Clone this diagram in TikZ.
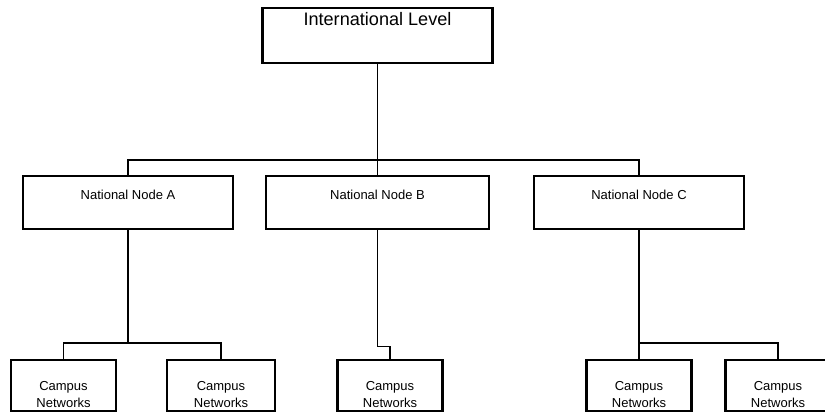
\documentclass[tikz,border=0pt]{standalone}
\usepackage{fontspec}
\setmainfont{Liberation Sans}
\usepackage{tikz}
\usetikzlibrary{positioning}

\begin{document}
\begin{tikzpicture}[
        x=0.02cm, y=-0.02cm,
        box/.style={rectangle, draw, line width=1.2pt, inner ysep=0pt,
                    align=center},
        topbox/.style={box, minimum width=4.6cm, minimum height=1.1cm,
                       text height=0.34cm, text depth=0.76cm,
                       font=\fontsize{10.3}{12}\selectfont},
        natbox/.style={box, minimum width=4.2cm, minimum height=1.06cm,
                       text height=0.46cm, text depth=0.6cm,
                       font=\fontsize{7.4}{9.6}\selectfont},
        campbox/.style={box, minimum width=2.1cm, minimum height=1.02cm,
                        text height=0.94cm, text depth=0.08cm,
                        font=\fontsize{7.4}{9.6}\selectfont},
        link/.style={line width=0.6pt},
    ]
        \clip (0,0) rectangle (825,413);

        % International level
        \node[topbox] (intl) at (377.5,35.5) {International Level};

        % National nodes
        \node[natbox] (natA) at (128,202.5) {National Node A};
        \node[natbox, minimum width=4.46cm] (natB) at (377.5,202.5) {National Node B};
        \node[natbox] (natC) at (639,202.5) {National Node C};

        % Campus networks
        \node[campbox] (campA1) at (63.5,385.5) {Campus\\Networks};
        \node[campbox, minimum width=2.16cm] (campA2) at (221,385.5) {Campus\\Networks};
        \node[campbox] (campB) at (390,385.5) {Campus\\Networks};
        \node[campbox] (campC1) at (639,385.5) {Campus\\Networks};
        \node[campbox] (campC2) at (778,385.5) {Campus\\Networks};

        % Bus points
        \coordinate (busN) at (377.5,160);
        \coordinate (busA) at (128,343);
        \coordinate (busC) at (639,343);

        % Links to national level
        \draw[link] (intl.south) -- (busN);
        \draw[link] (natA.north) |- (busN) -| (natC.north);
        \draw[link] (busN) -- (natB.north);

        % Links to campus level
        \draw[link] (natA.south) -- (busA);
        \draw[link] (campA1.north) |- (busA) -| (campA2.north);
        \draw[link] (natB.south) -- ++(0,116) -| (campB.north);
        \draw[link] (natC.south) -- (campC1.north);
        \draw[link] (busC) -| (campC2.north);
    \end{tikzpicture}
\end{document}
